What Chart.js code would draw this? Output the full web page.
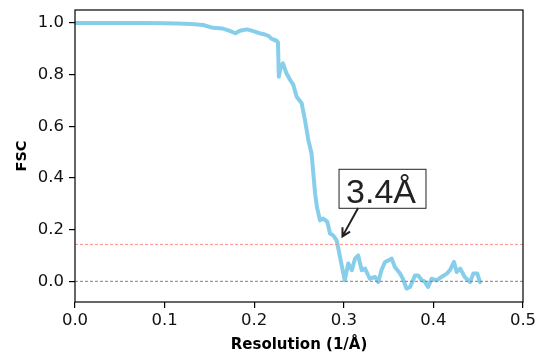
<!DOCTYPE html>
<html>
<head>
<meta charset="utf-8">
<script src="https://cdn.jsdelivr.net/npm/chart.js@4"></script>
<style>
  html, body { margin: 0; padding: 0; background: #fff; }
</style>
</head>
<body>
<canvas id="fsc" width="545" height="357"></canvas>
<script>
// spatial frequency (1/Å) and FSC values
const resolution = [0, 0.02, 0.04, 0.06, 0.08, 0.10, 0.114, 0.13, 0.143, 0.154, 0.165, 0.172, 0.179, 0.184, 0.192, 0.199, 0.206, 0.212, 0.216, 0.2195, 0.225, 0.2265, 0.2275, 0.229, 0.232, 0.236, 0.240, 0.2437, 0.2474, 0.253, 0.2567, 0.2604, 0.264, 0.266, 0.268, 0.270, 0.2734, 0.277, 0.2816, 0.2846, 0.288, 0.292, 0.2958, 0.301, 0.305, 0.309, 0.3125, 0.316, 0.320, 0.3237, 0.329, 0.335, 0.3385, 0.342, 0.346, 0.3497, 0.3535, 0.357, 0.3627, 0.366, 0.370, 0.374, 0.3795, 0.383, 0.387, 0.390, 0.394, 0.398, 0.4037, 0.409, 0.415, 0.4185, 0.423, 0.426, 0.430, 0.435, 0.441, 0.4445, 0.449, 0.452];
const fsc = [1.0, 1.0, 1.0, 1.0, 1.0, 0.999, 0.998, 0.996, 0.992, 0.981, 0.978, 0.97, 0.96, 0.97, 0.975, 0.968, 0.96, 0.955, 0.95, 0.938, 0.931, 0.925, 0.792, 0.82, 0.844, 0.805, 0.78, 0.76, 0.714, 0.689, 0.624, 0.547, 0.495, 0.417, 0.34, 0.288, 0.236, 0.243, 0.23, 0.185, 0.178, 0.159, 0.094, 0.004, 0.069, 0.043, 0.088, 0.10, 0.043, 0.049, 0.01, 0.017, -0.003, 0.043, 0.075, 0.081, 0.088, 0.055, 0.03, 0.01, -0.028, -0.022, 0.023, 0.023, 0.004, 0.0, -0.022, 0.01, 0.004, 0.017, 0.03, 0.043, 0.075, 0.036, 0.049, 0.017, -0.003, 0.03, 0.03, -0.003];

const threshold = 0.143;
const xRange = [0, 0.5];
const yRange = [-0.08, 1.05];
const xTicks = [0.0, 0.1, 0.2, 0.3, 0.4, 0.5];
const yTicks = [0.0, 0.2, 0.4, 0.6, 0.8, 1.0];

// resolution label (left/baseline anchor) + arrow, in data coords
const labelText = '3.4Å';
const labelPos = [0.3025, 0.302];
const arrowFrom = [0.316, 0.284];
const arrowTo = [0.2985, 0.174];

const pts = resolution.map((r, i) => ({ x: r, y: fsc[i] }));

const frame = {
  id: 'frame',
  afterDatasetsDraw(chart) {
    const { ctx, chartArea: a, scales } = chart;
    ctx.save();
    ctx.strokeStyle = '#000';
    ctx.lineWidth = 1.2;
    ctx.strokeRect(a.left, a.top, a.right - a.left, a.bottom - a.top);

    // annotation box
    const tx = scales.x.getPixelForValue(labelPos[0]);
    const ty = scales.y.getPixelForValue(labelPos[1]);
    ctx.font = '34px "Liberation Sans"';
    ctx.textAlign = 'left';
    ctx.textBaseline = 'alphabetic';
    const w = ctx.measureText(labelText).width;
    const bx = tx - 7, by = ty - 34, bw = w + 17, bh = 39;
    ctx.fillStyle = '#fff';
    ctx.fillRect(bx, by, bw, bh);
    ctx.lineWidth = 1;
    ctx.strokeStyle = '#222';
    ctx.strokeRect(bx, by, bw, bh);
    ctx.fillStyle = '#222';
    ctx.fillText(labelText, tx, ty);

    // arrow
    const x1 = scales.x.getPixelForValue(arrowFrom[0]), y1 = scales.y.getPixelForValue(arrowFrom[1]);
    const x2 = scales.x.getPixelForValue(arrowTo[0]), y2 = scales.y.getPixelForValue(arrowTo[1]);
    const ang = Math.atan2(y2 - y1, x2 - x1);
    ctx.strokeStyle = '#222';
    ctx.lineWidth = 2;
    ctx.beginPath();
    ctx.moveTo(x1, y1);
    ctx.lineTo(x2, y2);
    ctx.moveTo(x2 - 9 * Math.cos(ang - 0.5), y2 - 9 * Math.sin(ang - 0.5));
    ctx.lineTo(x2, y2);
    ctx.lineTo(x2 - 9 * Math.cos(ang + 0.5), y2 - 9 * Math.sin(ang + 0.5));
    ctx.stroke();
    ctx.restore();
  }
};

new Chart(document.getElementById('fsc'), {
  type: 'line',
  data: {
    datasets: [
      {
        data: xRange.map(x => ({ x, y: threshold })),
        borderColor: '#ff8a8a',
        borderWidth: 1,
        borderDash: [3, 2],
        pointRadius: 0
      },
      {
        data: xRange.map(x => ({ x, y: 0 })),
        borderColor: '#808080',
        borderWidth: 1,
        borderDash: [3, 2],
        pointRadius: 0
      },
      {
        data: pts,
        borderColor: '#87CEEB',
        borderWidth: 4,
        borderJoinStyle: 'round',
        borderCapStyle: 'round',
        pointRadius: 0,
        tension: 0
      }
    ]
  },
  options: {
    responsive: false,
    animation: false,
    layout: { padding: { left: 0, right: 22, top: 10, bottom: 0 } },
    plugins: { legend: { display: false }, tooltip: { enabled: false } },
    scales: {
      x: {
        type: 'linear',
        min: xRange[0],
        max: xRange[1],
        afterBuildTicks: s => { s.ticks = xTicks.map(v => ({ value: v })); },
        afterFit: s => { s.height = 55; s.paddingLeft = 0; s.paddingRight = 0; },
        grid: { drawOnChartArea: false, drawTicks: true, tickLength: 6, lineWidth: 1.2, color: '#000' },
        border: { display: false },
        ticks: {
          color: '#111',
          font: { family: 'DejaVu Sans', size: 16.5 },
          padding: 3,
          maxRotation: 0,
          callback: v => v.toFixed(1)
        },
        title: {
          display: true,
          text: 'Resolution (1/Å)',
          color: '#000',
          font: { family: 'DejaVu Sans', size: 15, weight: 'bold' },
          padding: { bottom: 3 }
        }
      },
      y: {
        type: 'linear',
        min: yRange[0],
        max: yRange[1],
        afterBuildTicks: s => { s.ticks = yTicks.map(v => ({ value: v })); },
        afterFit: s => { s.width = 75; s.paddingTop = 0; s.paddingBottom = 0; },
        grid: { drawOnChartArea: false, drawTicks: true, tickLength: 6, lineWidth: 1.2, color: '#000' },
        border: { display: false },
        ticks: {
          color: '#111',
          font: { family: 'DejaVu Sans', size: 16.5 },
          padding: 5,
          callback: v => v.toFixed(1)
        },
        title: {
          display: true,
          text: 'FSC',
          color: '#000',
          font: { family: 'DejaVu Sans', size: 14.5, weight: 'bold' },
          padding: { top: 14 }
        }
      }
    }
  },
  plugins: [frame]
});
</script>
</body>
</html>
